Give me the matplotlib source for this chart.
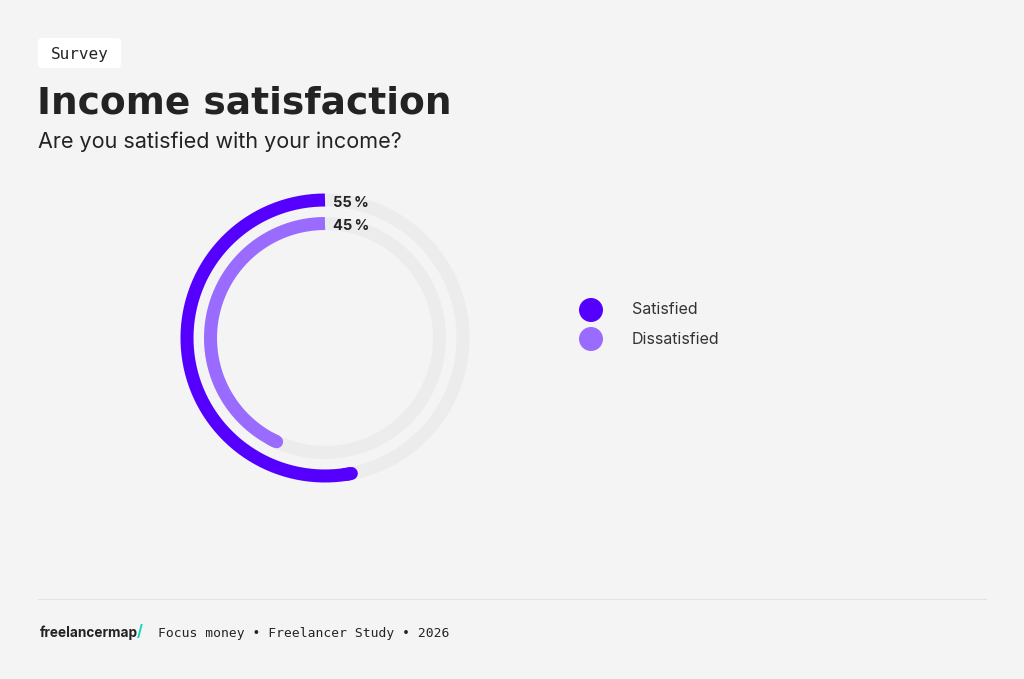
import matplotlib
matplotlib.use("Agg")
import matplotlib.pyplot as plt
from matplotlib.patches import FancyBboxPatch
import numpy as np

# data
categories = ["Satisfied", "Dissatisfied"]
values = [55, 45]
colors = ["#5500ff", "#9a6bff"]

BG = "#f4f4f4"
TRACK = "#ececec"
DARK = "#232323"

W, H = 1024, 679
fig = plt.figure(figsize=(W / 100, H / 100), dpi=100, facecolor=BG)

# pixel-coordinate canvas for texts and decorations
bg = fig.add_axes([0, 0, 1, 1])
bg.set_xlim(0, W)
bg.set_ylim(H, 0)
bg.axis("off")
bg.set_facecolor(BG)

# tag
bg.add_patch(FancyBboxPatch((38, 38), 83, 30, boxstyle="round,pad=0,rounding_size=4",
                            fc="white", ec="none"))
bg.text(80, 54, "Survey", ha="center", va="center", fontsize=11.5,
        family="DejaVu Sans Mono", color=DARK)

bg.text(37, 114, "Income satisfaction", ha="left", va="baseline", fontsize=27,
        family="DejaVu Sans", weight="bold", color=DARK)
bg.text(38, 148, "Are you satisfied with your income?", ha="left", va="baseline",
        fontsize=15.5, family="Inter", color=DARK)

# rings in a polar axes centred at (325, 338) px, radius 160 px
cx, cy, R = 325, 338, 160
pax = fig.add_axes([(cx - R) / W, (H - cy - R) / H, 2 * R / W, 2 * R / H], projection="polar")
pax.set_theta_zero_location("N")
pax.set_theta_direction(1)
pax.set_ylim(0, R)
pax.axis("off")
pax.patch.set_alpha(0)

radii = [138, 114.5]
lw = 13 * 0.72
trim = np.deg2rad(7)  # rounded end sits inside the value angle
full = np.linspace(0, 2 * np.pi, 400)
for val, col, r in zip(values, colors, radii):
    pax.plot(full, np.full_like(full, r), color=TRACK, lw=lw, solid_capstyle="butt")
    end = val / 100 * 2 * np.pi - trim
    th = np.linspace(0, end, 300)
    pax.plot(th, np.full_like(th, r), color=col, lw=lw, solid_capstyle="butt")
    tail = np.linspace(end - 0.05, end, 10)
    pax.plot(tail, np.full_like(tail, r), color=col, lw=lw, solid_capstyle="round")
    pax.annotate(f"{val}\u2009%", xy=(0, r), xytext=(6, -2), textcoords="offset points",
                 ha="left", va="center", fontsize=10.5, family="Inter", weight="bold",
                 color=DARK, annotation_clip=False)

# legend
leg_y = [310, 339]
for lab, col, y in zip(categories, colors, leg_y):
    bg.scatter([591], [y], s=(24 * 0.72) ** 2, color=col, edgecolors="none")
    bg.text(632, y, lab, ha="left", va="center", fontsize=11.5, family="Inter", color="#333333")

# footer
bg.plot([38, 986], [599, 599], color="#e2e2e2", lw=0.8)
bg.text(40, 633, "freelancermap", ha="left", va="center", fontsize=9.8,
        family="Inter", weight="bold", color=DARK)
bg.text(137, 632, "/", ha="left", va="center", fontsize=11,
        family="Inter", weight="bold", color="#12d6b8")
bg.text(158, 633, "Focus money • Freelancer Study • 2026", ha="left", va="center",
        fontsize=9.4, family="DejaVu Sans Mono", color=DARK)

fig.savefig("out.png", dpi=100, facecolor=BG)
